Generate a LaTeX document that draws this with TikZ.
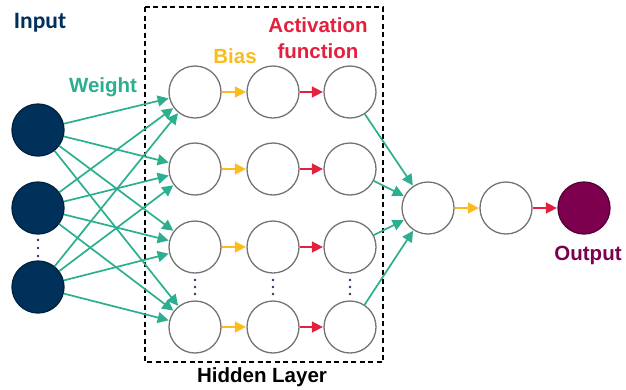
\documentclass[tikz,border=0pt]{standalone}
\usepackage{fontspec}
\setmainfont{Liberation Sans}
\newfontfamily\calib{Carlito}
\usetikzlibrary{arrows.meta}
\definecolor{navy}{HTML}{00315A}
\definecolor{tealc}{HTML}{2BAF8F}
\definecolor{yellowc}{HTML}{FBBC1E}
\definecolor{redc}{HTML}{E4203F}
\definecolor{purplec}{HTML}{7C004E}
\definecolor{dotc}{HTML}{3A2C66}
\tikzset{
  neuron/.style={circle, minimum size=52pt, inner sep=0pt, draw=black!55, line width=1.3pt, fill=white},
  inneuron/.style={neuron, fill=navy, draw=navy!70!black},
  outneuron/.style={neuron, fill=purplec, draw=purplec!70!black},
  tip/.style={-{Triangle[length=11pt,width=11pt]}, line width=1.7pt, shorten >=0.5pt},
  wt/.style={tip, draw=tealc, fill=tealc},
  bs/.style={tip, draw=yellowc, fill=yellowc},
  af/.style={tip, draw=redc, fill=redc},
  lbl/.style={anchor=base, inner sep=0pt, font=\bfseries\fontsize{20.5}{24}\selectfont},
  vdot/.style={circle, fill=dotc, inner sep=0pt, minimum size=2.6pt}
}
\begin{document}
\begin{tikzpicture}[x=1pt,y=-1pt]
\useasboundingbox (0,0) rectangle (626,389);
\fill[white] (0,0) rectangle (626,389);
% hidden layer box
\draw[dashed, dash pattern=on 5pt off 3.5pt, line width=1.1pt] (145,7) rectangle (383,362);
% input nodes
\node[inneuron] (i1) at (38,130) {};
\node[inneuron] (i2) at (38,208) {};
\node[inneuron] (i3) at (38,287) {};
% hidden nodes
\foreach \r/\y in {1/92,2/169,3/247,4/327}{
  \node[neuron] (a\r) at (195,\y) {};
  \node[neuron] (b\r) at (273,\y) {};
  \node[neuron] (c\r) at (350,\y) {};
}
% output side
\node[neuron] (m1) at (428,208) {};
\node[neuron] (m2) at (506,208) {};
\node[outneuron] (o) at (584,208) {};
% dots
\foreach \y in {240,248,256}{\node[vdot] (d0\y) at (38,\y) {};}
\foreach \x/\n in {195/a,273/b,350/c}{
  \foreach \y in {280,287,294}{\node[vdot] (d\n\y) at (\x,\y) {};}
}
% weights
\foreach \i in {1,2,3}{
  \foreach \r in {1,2,3,4}{
    \draw[wt] (i\i) -- (a\r);
  }
}
\foreach \r in {1,2,3,4}{
  \draw[bs] (a\r) -- (b\r);
  \draw[af] (b\r) -- (c\r);
  \draw[wt] (c\r) -- (m1);
}
\draw[bs] (m1) -- (m2);
\draw[af] (m2) -- (o);
% labels
\node[anchor=base, inner sep=0pt, text=navy, font=\calib\bfseries\fontsize{23.5}{26}\selectfont] (tin) at (40,28) {Input};
\node[lbl, text=tealc] (tw) at (103,92) {Weight};
\node[lbl, text=yellowc] (tb) at (235,63) {Bias};
\node[lbl, text=redc] (ta) at (318,32) {Activation};
\node[lbl, text=redc] (tf) at (318,58) {function};
\node[lbl, text=black] (th) at (262,382) {Hidden Layer};
\node[lbl, text=purplec] (to) at (588,260) {Output};
\end{tikzpicture}
\end{document}
